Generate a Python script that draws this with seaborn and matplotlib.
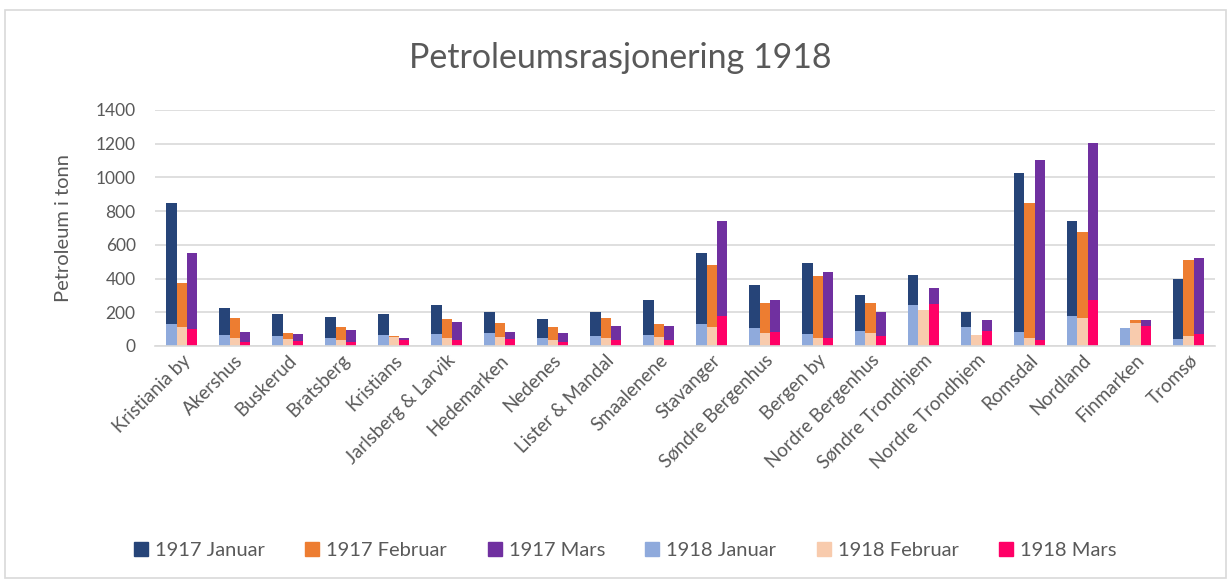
import pandas as pd
import matplotlib.pyplot as plt
import matplotlib.patches as mpatches
import seaborn as sns

regions = ['Kristiania by', 'Akershus', 'Buskerud', 'Bratsberg', 'Kristians',
           'Jarlsberg & Larvik', 'Hedemarken', 'Nedenes', 'Lister & Mandal',
           'Smaalenene', 'Stavanger', 'Søndre Bergenhus', 'Bergen by',
           'Nordre Bergenhus', 'Søndre Trondhjem', 'Nordre Trondhjem',
           'Romsdal', 'Nordland', 'Finmarken', 'Tromsø']
months = ['Januar', 'Februar', 'Mars']

# 1917 values (tonn)
jan_1917 = [847, 224, 190, 170, 190, 246, 200, 160, 202, 271, 552, 362, 495, 301, 424, 202, 1028, 744, 0, 398]
feb_1917 = [372, 168, 77, 115, 59, 158, 139, 111, 164, 129, 483, 257, 414, 257, 0, 0, 851, 675, 152, 509]
mar_1917 = [550, 85, 71, 95, 50, 145, 85, 77, 121, 119, 740, 273, 436, 200, 343, 156, 1105, 1204, 154, 523]
# 1918 values (tonn)
jan_1918 = [131, 65, 57, 50, 65, 69, 75, 46, 57, 65, 129, 105, 71, 89, 246, 111, 81, 176, 107, 42]
feb_1918 = [113, 48, 44, 38, 51, 46, 55, 36, 50, 51, 115, 77, 50, 77, 216, 67, 50, 164, 139, 61]
mar_1918 = [99, 26, 30, 26, 34, 36, 40, 26, 38, 36, 180, 81, 50, 59, 248, 89, 36, 271, 121, 69]

colors_1917 = ['#264478', '#ed7d31', '#7030a0']
colors_1918 = ['#8faadc', '#f8cbad', '#ff0066']


def long_frame(jan, feb, mar):
    rows = []
    for m, vals in zip(months, [jan, feb, mar]):
        for r, v in zip(regions, vals):
            rows.append({'region': r, 'month': m, 'tonn': v})
    return pd.DataFrame(rows)


df17 = long_frame(jan_1917, feb_1917, mar_1917)
df18 = long_frame(jan_1918, feb_1918, mar_1918)

sns.set_theme(style='white')
plt.rcParams['font.family'] = ['Lato', 'DejaVu Sans']
grey = '#595959'

fig = plt.figure(figsize=(12.31, 5.81), dpi=100)
ax = fig.add_axes([0.126, 0.4045, 0.861, 0.4062])

# 1917 bars behind, 1918 bars drawn on top at the same positions
sns.barplot(data=df17, x='region', y='tonn', hue='month', hue_order=months,
            order=regions, palette=colors_1917, width=0.57, ax=ax,
            errorbar=None, legend=False, linewidth=0, saturation=1)
sns.barplot(data=df18, x='region', y='tonn', hue='month', hue_order=months,
            order=regions, palette=colors_1918, width=0.57, ax=ax,
            errorbar=None, legend=False, linewidth=0, saturation=1)

ax.set_ylim(0, 1400)
ax.set_xlim(-0.5, len(regions) - 0.5)
ax.set_yticks(range(0, 1401, 200))
ax.yaxis.grid(True, color='#d9d9d9', linewidth=1.2)
ax.set_axisbelow(True)
for s in ['top', 'right', 'left']:
    ax.spines[s].set_visible(False)
ax.spines['bottom'].set_color('#d9d9d9')
ax.spines['bottom'].set_linewidth(1.2)
ax.tick_params(axis='y', length=0, colors=grey, labelsize=12.5, pad=14)
ax.tick_params(axis='x', length=0, colors=grey, labelsize=13.5, pad=4)
plt.setp(ax.get_xticklabels(), rotation=45, ha='right', rotation_mode='anchor')
ax.set_xlabel('')
ax.set_ylabel('Petroleum i tonn', fontsize=14.5, color=grey, labelpad=17)

fig.text(0.504, 0.9, 'Petroleumsrasjonering 1918', ha='center', va='center',
         fontsize=24.5, color=grey)

handles = [mpatches.Patch(color=c) for c in colors_1917 + colors_1918]
labels = ['1917 ' + m for m in months] + ['1918 ' + m for m in months]
fig.legend(handles, labels, loc='center', bbox_to_anchor=(0.508, 0.052), ncol=6,
           frameon=False, fontsize=14.5, handlelength=0.7, handleheight=0.7,
           handletextpad=0.35, columnspacing=2.0, labelcolor=grey)

fig.patches.append(mpatches.Rectangle((0.004, 0.006), 0.992, 0.976,
                                      transform=fig.transFigure, fill=False,
                                      edgecolor='#d9d9d9', linewidth=1.2))

fig.savefig('out.png', dpi=100)
